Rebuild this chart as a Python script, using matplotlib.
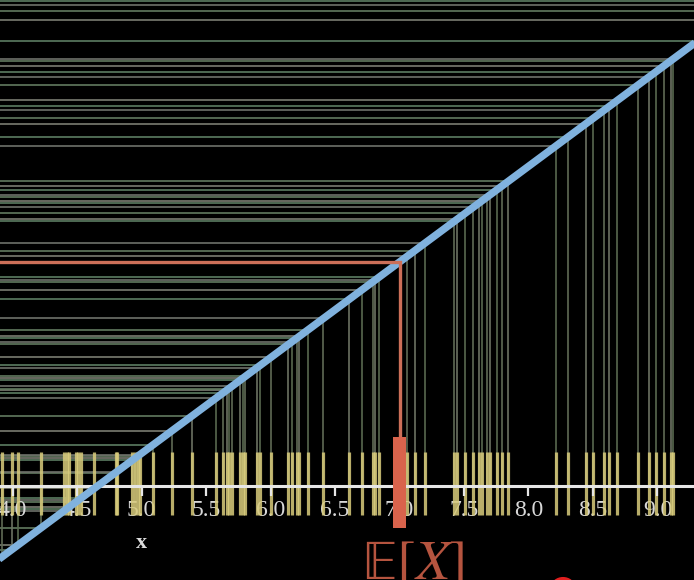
import matplotlib
matplotlib.use("Agg")
import matplotlib.pyplot as plt
from matplotlib.patches import Rectangle, Circle

plt.rcParams["mathtext.fontset"] = "stix"

# ---- data ----
samples = [3.916, 3.994, 4.045, 4.219, 4.399, 4.42, 4.44, 4.49, 4.51, 4.53,
           4.634, 4.80, 4.81, 4.93, 4.95, 4.975, 4.988, 5.087, 5.234, 5.394,
           5.575, 5.634, 5.66, 5.678, 5.704, 5.764, 5.784, 5.805, 5.893, 5.919,
           6.004, 6.138, 6.164, 6.208, 6.223, 6.293, 6.41, 6.61, 6.707, 6.792,
           6.81, 6.843, 7.06, 7.12, 7.198, 7.425, 7.448, 7.508, 7.572, 7.619,
           7.642, 7.68, 7.70, 7.754, 7.792, 7.843, 8.213, 8.309, 8.446, 8.502,
           8.588, 8.626, 8.688, 8.846, 8.936, 8.988, 9.053, 9.102, 9.122, 9.312,
           9.529, 9.626, 9.686, 9.727]
expected_value = 7.0
tick_values = [4.0, 4.5, 5.0, 5.5, 6.0, 6.5, 7.0, 7.5, 8.0, 8.5, 9.0]
tick_labels = ["4.0", "4.5", "5.0", "5.5", "6.0", "6.5", "7.0", "7.5", "8.0", "8.5", "9.0"]

# ---- layout constants (data units) ----
XMIN, XMAX = 3.903, 9.283
YMIN, YMAX = 3.677, 9.738
AXIS_Y = 4.66
TICK_TOP, TICK_BOT = 5.015, 4.356
LABEL_Y = 4.40

fig = plt.figure(figsize=(6.94, 5.80), dpi=100, facecolor="black")
ax = fig.add_axes([0, 0, 1, 1])
ax.set_facecolor("black")
ax.set_xlim(XMIN, XMAX)
ax.set_ylim(YMIN, YMAX)
ax.axis("off")

hcolors = ["#6e716a", "#5c7c62", "#7a7c72", "#627a5f"]
vcolors = ["#5f6a55", "#6b7262", "#58684f"]

# horizontal lines from left edge to the diagonal
for i, s in enumerate(samples):
    ax.plot([XMIN - 1, s], [s, s], color=hcolors[i % len(hcolors)],
            lw=1.2, zorder=1, solid_capstyle="butt")
# vertical lines from the number line to the diagonal
for i, s in enumerate(samples):
    ax.plot([s, s], [AXIS_Y, s], color=vcolors[i % len(vcolors)],
            lw=1.2, zorder=1, solid_capstyle="butt")

# tick labels (behind sample ticks)
for v, lab in zip(tick_values, tick_labels):
    ax.text(v, LABEL_Y, lab, color="#d8d8d8", fontsize=17,
            family="Liberation Serif", ha="center", va="center", zorder=2)

# yellow sample ticks
ax.vlines(samples, TICK_BOT, TICK_TOP, colors="#d9cc7c", lw=2.3,
          alpha=0.85, zorder=3)

# number line
ax.plot([XMIN - 1, XMAX + 1], [AXIS_Y, AXIS_Y], color="#e6e6e6", lw=2.2, zorder=4)
ax.vlines(tick_values, AXIS_Y - 0.105, AXIS_Y, colors="#e6e6e6", lw=1.6, zorder=4)

# diagonal y = x
ax.plot([XMIN - 1, XMAX + 1], [XMIN - 1, XMAX + 1], color="#80b2de",
        lw=5.4, zorder=5, solid_capstyle="butt")

# expected value marker
orange = "#cc6f58"
ax.plot([XMIN - 1, expected_value, expected_value],
        [expected_value, expected_value, 5.171],
        color=orange, lw=2.4, zorder=6, solid_joinstyle="miter")
ax.add_patch(Rectangle((expected_value - 0.05, 4.220), 0.10, 5.171 - 4.220,
                       facecolor="#d9634c", edgecolor="none", zorder=7))

# labels
ax.text(5.0, 4.06, "x", color="#dcdcdc", fontsize=16, fontweight="bold",
        family="Liberation Serif", ha="center", va="center", zorder=8)
ax.text(expected_value - 0.29, 4.09, "\U0001D53C[$X$]", color="#b5543f",
        fontsize=40, family="STIXGeneral", ha="left", va="top", zorder=8)

# red cursor dot (partly off-canvas)
ax.add_patch(Circle((563 / 694, -7 / 580), 12 / 694, transform=ax.transAxes,
                    facecolor="#e01e1e", edgecolor="none", zorder=9,
                    clip_on=True))

fig.savefig("out.png", dpi=100, facecolor="black")
